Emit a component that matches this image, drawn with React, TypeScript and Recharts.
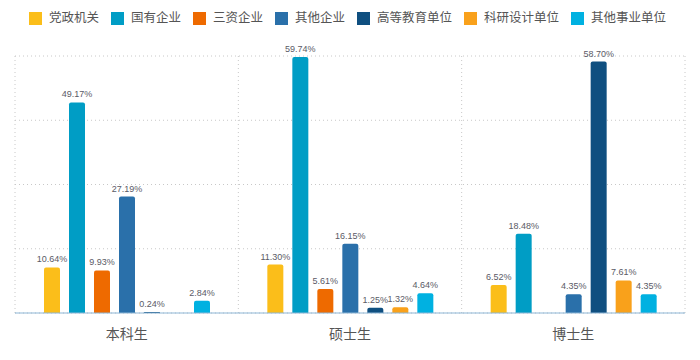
import React from 'react';
import { BarChart, Bar, XAxis, YAxis, CartesianGrid, LabelList } from 'recharts';

const categories = ['本科生', '硕士生', '博士生'];
const seriesNames = ['党政机关', '国有企业', '三资企业', '其他企业', '高等教育单位', '科研设计单位', '其他事业单位'];
const seriesColors = ['#FBBE1A', '#009DC5', '#EE6A00', '#2A70AA', '#0F4F80', '#F9A11B', '#00B1E1'];
const dangzheng = [10.64, 11.3, 6.52];
const guoyou = [49.17, 59.74, 18.48];
const sanzi = [9.93, 5.61, null];
const qitaQiye = [27.19, 16.15, 4.35];
const gaodeng = [0.24, 1.25, 58.7];
const keyan = [null, 1.32, 7.61];
const qitaShiye = [2.84, 4.64, 4.35];
const yTicks = [0, 15, 30, 45, 60];

const seriesValues = [dangzheng, guoyou, sanzi, qitaQiye, gaodeng, keyan, qitaShiye];

const data = categories.map((c, i) => {
  const row: any = { name: c };
  seriesValues.forEach((vals, s) => {
    row['s' + s] = vals[i];
  });
  return row;
});

const FONT = "'Helvetica Neue', Arial, 'Liberation Sans', 'Noto Sans CJK SC', sans-serif";

const fmt = (v: any) => (v === null || v === undefined ? '' : Number(v).toFixed(2) + '%');

export default function App() {
  return (
    <div style={{ position: 'absolute', left: 0, top: 0, width: 700, height: 360, background: '#fff', fontFamily: FONT }}>
      <div
        style={{
          position: 'absolute',
          left: 29,
          top: 11,
          display: 'flex',
          alignItems: 'center',
          fontSize: 12.5,
          color: '#555',
          lineHeight: '14px',
          whiteSpace: 'nowrap',
        }}
      >
        {seriesNames.map((n, i) => (
          <div key={n} style={{ display: 'flex', alignItems: 'center', marginRight: 12 }}>
            <span style={{ display: 'inline-block', width: 13, height: 13, background: seriesColors[i], marginRight: 7 }} />
            <span>{n}</span>
          </div>
        ))}
      </div>
      <BarChart
        width={700}
        height={360}
        data={data}
        margin={{ top: 56, right: 15, left: 15, bottom: 17 }}
        barSize={16}
        barGap={9}
      >
        <CartesianGrid
          stroke="#c8c8c8"
          strokeDasharray="1 3"
          verticalCoordinatesGenerator={({ offset }: any) => [
            offset.left,
            offset.left + offset.width / 3,
            offset.left + (2 * offset.width) / 3,
            offset.left + offset.width,
          ]}
        />
        <XAxis
          dataKey="name"
          axisLine={{ stroke: '#8DB6D6' }}
          tickLine={false}
          tick={{ fill: '#555', fontSize: 14 }}
          tickMargin={10}
          height={30}
        />
        <YAxis hide domain={[0, 60]} ticks={yTicks} />
        {seriesNames.map((n, i) => (
          <Bar key={n} dataKey={'s' + i} name={n} fill={seriesColors[i]} radius={[2, 2, 0, 0]} isAnimationActive={false}>
            <LabelList dataKey={'s' + i} position="top" offset={5} formatter={fmt} fill="#5a5a66" fontSize={9} />
          </Bar>
        ))}
      </BarChart>
    </div>
  );
}
